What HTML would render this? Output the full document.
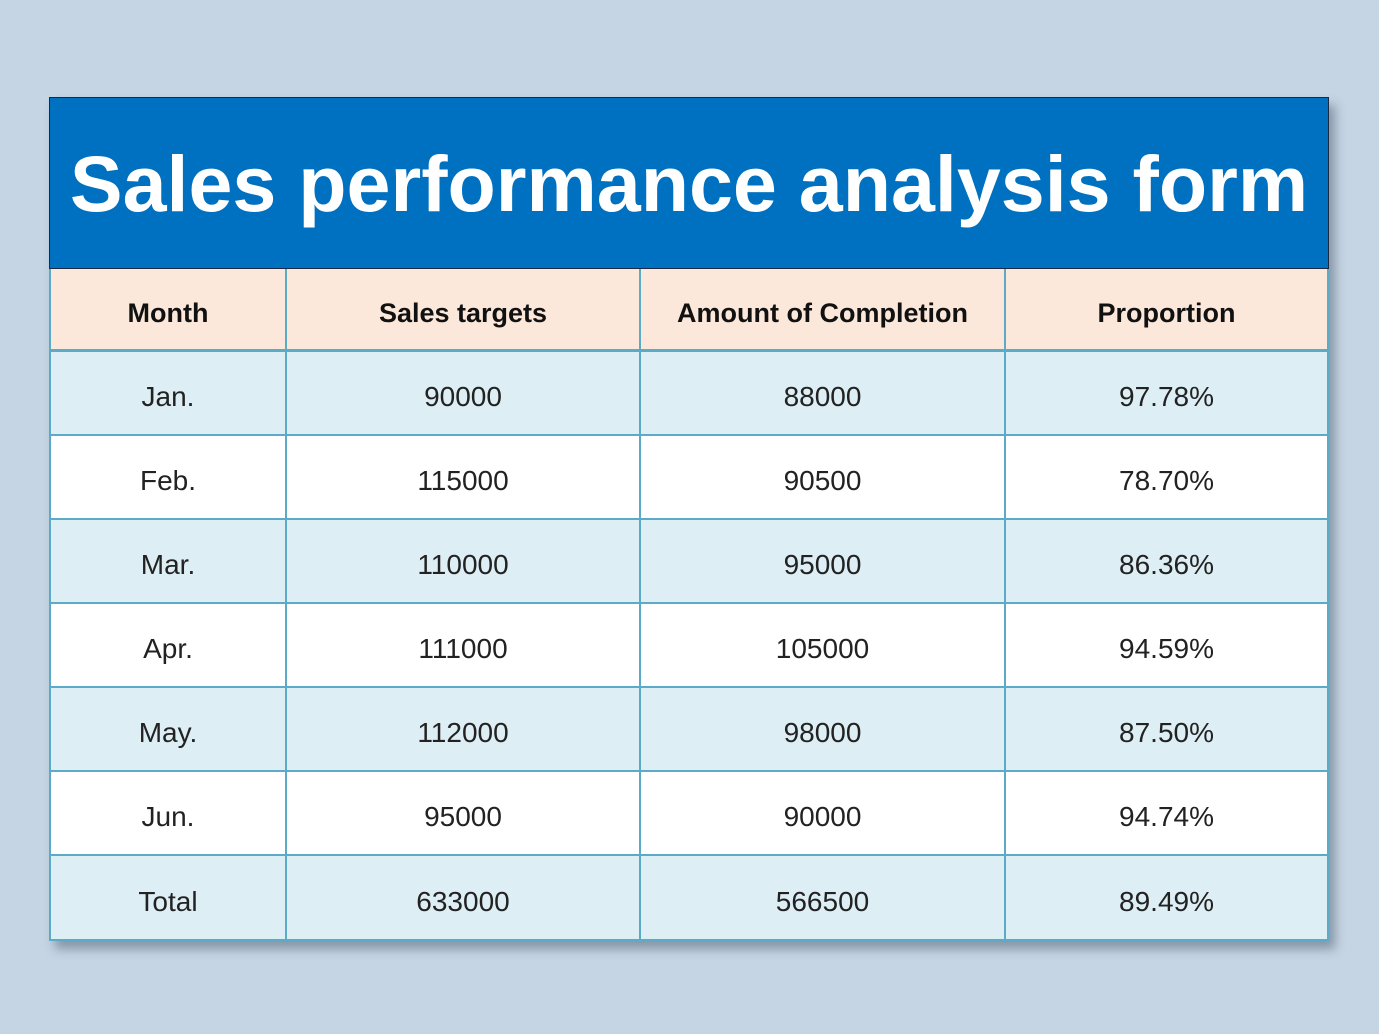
<!DOCTYPE html>
<html><head><style>
body{margin:0;width:1379px;height:1034px;background:#c5d5e4;overflow:hidden;font-family:"Liberation Sans",sans-serif;}
#t{position:absolute;left:49px;top:97px;width:1280px;height:844px;box-shadow:6px 8px 10px rgba(60,70,90,0.45);background:#fff;}
#title{position:absolute;left:0;top:0;width:1280px;height:172px;background:#0070c0;border:1px solid #1a2a40;box-sizing:border-box;color:#fff;font-weight:bold;font-size:79px;text-align:center;line-height:172px;letter-spacing:0px;}
.r{position:absolute;left:0;width:1280px;height:84px;box-sizing:border-box;border-bottom:2px solid #5aaac8;}
.c{position:absolute;top:0;height:100%;display:flex;align-items:center;justify-content:center;font-size:28px;color:#222;box-sizing:border-box;border-right:2px solid #5aaac8;padding-top:8px;}
.h .c{font-weight:bold;font-size:27px;color:#111;}
</style></head><body>
<div id="t">
<div id="title">Sales performance analysis form</div>
<div class="r h" style="top:172px;height:83px;background:#fce8da;border-bottom:3px solid #5aaac8"><div class="c" style="left:0;width:238px;border-left:2px solid #5aaac8">Month</div><div class="c" style="left:238px;width:354px">Sales targets</div><div class="c" style="left:592px;width:365px">Amount of Completion</div><div class="c" style="left:957px;width:323px">Proportion</div></div>
<div class="r" style="top:255px;background:#ddeef5"><div class="c" style="left:0;width:238px;border-left:2px solid #5aaac8">Jan.</div><div class="c" style="left:238px;width:354px">90000</div><div class="c" style="left:592px;width:365px">88000</div><div class="c" style="left:957px;width:323px">97.78%</div></div>
<div class="r" style="top:339px;background:#fff"><div class="c" style="left:0;width:238px;border-left:2px solid #5aaac8">Feb.</div><div class="c" style="left:238px;width:354px">115000</div><div class="c" style="left:592px;width:365px">90500</div><div class="c" style="left:957px;width:323px">78.70%</div></div>
<div class="r" style="top:423px;background:#ddeef5"><div class="c" style="left:0;width:238px;border-left:2px solid #5aaac8">Mar.</div><div class="c" style="left:238px;width:354px">110000</div><div class="c" style="left:592px;width:365px">95000</div><div class="c" style="left:957px;width:323px">86.36%</div></div>
<div class="r" style="top:507px;background:#fff"><div class="c" style="left:0;width:238px;border-left:2px solid #5aaac8">Apr.</div><div class="c" style="left:238px;width:354px">111000</div><div class="c" style="left:592px;width:365px">105000</div><div class="c" style="left:957px;width:323px">94.59%</div></div>
<div class="r" style="top:591px;background:#ddeef5"><div class="c" style="left:0;width:238px;border-left:2px solid #5aaac8">May.</div><div class="c" style="left:238px;width:354px">112000</div><div class="c" style="left:592px;width:365px">98000</div><div class="c" style="left:957px;width:323px">87.50%</div></div>
<div class="r" style="top:675px;background:#fff"><div class="c" style="left:0;width:238px;border-left:2px solid #5aaac8">Jun.</div><div class="c" style="left:238px;width:354px">95000</div><div class="c" style="left:592px;width:365px">90000</div><div class="c" style="left:957px;width:323px">94.74%</div></div>
<div class="r" style="top:759px;height:85px;background:#ddeef5"><div class="c" style="left:0;width:238px;border-left:2px solid #5aaac8">Total</div><div class="c" style="left:238px;width:354px">633000</div><div class="c" style="left:592px;width:365px">566500</div><div class="c" style="left:957px;width:323px">89.49%</div></div>
</div>
</body></html>
